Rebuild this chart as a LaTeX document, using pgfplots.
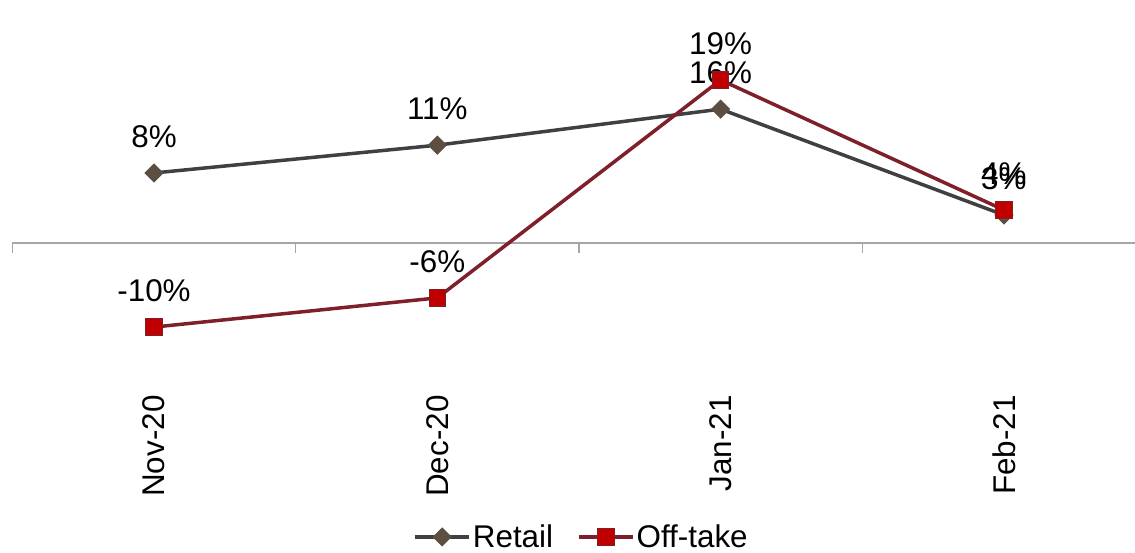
\documentclass[border=0pt]{standalone}
\usepackage{pgfplots}
\pgfplotsset{compat=1.18}
\usepackage{fontspec}
\setmainfont{Liberation Sans}

\definecolor{retailline}{HTML}{404040}
\definecolor{retailmark}{HTML}{5C4E40}
\definecolor{offline}{HTML}{7F1F2A}
\definecolor{offmark}{HTML}{C00000}
\definecolor{axisgray}{HTML}{A6A6A6}

\begin{document}
\begin{tikzpicture}
\begin{axis}[
    scale only axis,
    width=1122.7bp, height=553bp,
    xmin=-0.5, xmax=3.4628,
    ymin=-36.13, ymax=28.32,
    axis x line=middle,
    axis y line=none,
    hide obscured x ticks=false,
    x axis line style={draw=axisgray, line width=1.5bp, -},
    xtick={-0.5,0.5,1.5,2.5},
    xticklabels={},
    xtick align=outside,
    major tick length=10bp,
    major x tick style={draw=axisgray, line width=1.5bp},
    extra x ticks={0,1,2,3},
    extra x tick labels={Nov-20,Dec-20,Jan-21,Feb-21},
    extra x tick style={major tick length=0pt},
    xticklabel style={font=\fontsize{31.5}{38}\selectfont, yshift=-149bp, rotate=90, anchor=east},
    clip=false,
    nodes near coords,
    point meta=explicit symbolic,
    every node near coord/.append style={font=\fontsize{31.5}{38}\selectfont, text=black, anchor=center, yshift=36bp},
    legend style={at={(0.507,0.029)}, anchor=center, draw=none, fill=none,
        legend columns=2, font=\fontsize{31.5}{38}\selectfont,
        /tikz/every even column/.append style={column sep=22bp}},
    legend image code/.code={\draw[mark repeat=2, mark phase=2, #1] plot coordinates {(0bp,0bp) (27bp,0bp) (54bp,0bp)};},
]
\addplot[color=retailline, line width=3.5bp, mark=square*, mark size=6.3bp,
    mark options={rotate=45, fill=retailmark, draw=retailmark, line width=1bp}]
    coordinates {(0,8.16) [8\%] (1,11.4) [11\%] (2,15.6) [16\%] (3,3.26) [3\%]};
\addlegendentry{Retail}
\addplot[color=offline, line width=3.5bp, mark=square*, mark size=8.3bp,
    mark options={fill=offmark, draw=offline, line width=1bp}]
    coordinates {(0,-9.8) [-10\%] (1,-6.4) [-6\%] (2,19.0) [19\%] (3,3.85) [4\%]};
\addlegendentry{Off-take}
\coordinate (bbsw) at (axis cs:-0.5436,-36.13);
\coordinate (bbne) at (axis cs:3.4628,28.32);
\end{axis}
\pgfresetboundingbox
\useasboundingbox (bbsw) rectangle (bbne);
\end{tikzpicture}
\end{document}
